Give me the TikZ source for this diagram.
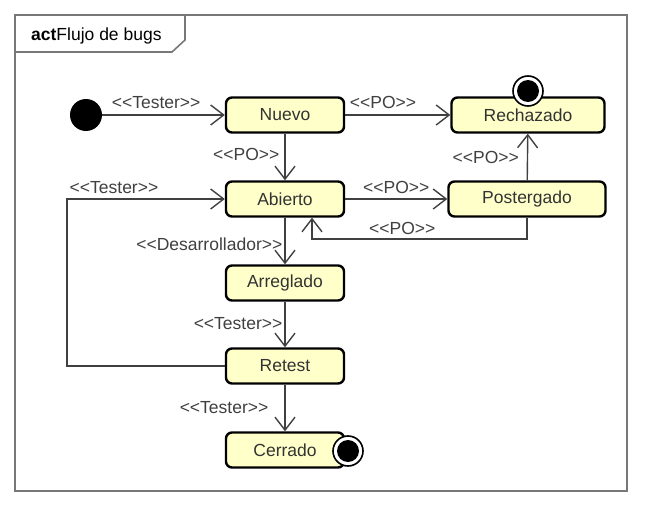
\documentclass[tikz,border=0pt]{standalone}
\usepackage{fontspec}
\setmainfont{Liberation Sans}
\usetikzlibrary{arrows.meta}
\definecolor{boxfill}{RGB}{255,255,202}
\definecolor{linegray}{RGB}{64,64,64}
\definecolor{framegray}{RGB}{120,120,120}
\newcommand{\stereo}[1]{<{}<#1>{}>}
\begin{document}
\begin{tikzpicture}[x=1pt, y=-1pt, font=\fontsize{17.5}{20}\selectfont,
    >={Straight Barb[length=13pt,width=20pt]},
    state/.style={draw=black, line width=2.4pt, fill=boxfill, rounded corners=6pt,
      minimum height=35pt, minimum width=118pt, inner sep=0pt, text=black!80},
    flow/.style={->, draw=linegray, line width=1.4pt},
    lbl/.style={text=black!75, inner sep=2pt},
    final/.style={circle, draw=black, fill=white, line width=1.6pt, minimum size=30pt, inner sep=0pt}]
    \useasboundingbox (0,0) rectangle (646,506);
    % frame
    \draw[framegray, line width=1.6pt] (15,15) rectangle (627,491);
    \draw[framegray, line width=1.6pt] (15,52) -- (172,52) -- (185,40) -- (185,15);
    \node[anchor=west, inner sep=0pt] (title) at (31,36) {\textbf{act}Flujo de bugs};
    % states
    \node[circle, fill=black, minimum size=32pt, inner sep=0pt] (ini) at (86,115) {};
    \node[state] (nuevo) at (285,115) {Nuevo};
    \node[state, minimum width=153pt] (rech) at (528,115) {Rechazado};
    \node[state] (abierto) at (285,199) {Abierto};
    \node[state, minimum width=157pt] (poster) at (527,199) {Postergado};
    \node[state] (arreglado) at (285,283) {Arreglado};
    \node[state] (retest) at (285,366) {Retest};
    \node[state] (cerrado) at (285,450) {Cerrado};
    \node[final] (finR) at (528,91) {};
    \fill (finR.center) circle (11pt);
    \node[final] (finC) at (348,451) {};
    \fill (finC.center) circle (11pt);
    \coordinate (corner) at (67,199);
    \coordinate (back) at (312,239);
    % transitions
    \draw[flow] (ini) -- node[lbl, above=4pt, pos=0.44] {\stereo{Tester}} (nuevo);
    \draw[flow] (nuevo) -- node[lbl, above=4pt, pos=0.36] {\stereo{PO}} (rech);
    \draw[flow] (nuevo) -- node[lbl, left, pos=0.45, xshift=-3pt] {\stereo{PO}} (abierto);
    \draw[flow] (abierto) -- node[lbl, above=3pt] {\stereo{PO}} (poster);
    \draw[flow] (poster) -- node[lbl, left, xshift=-6pt] {\stereo{PO}} (rech);
    \draw[flow] (poster.south) |- node[lbl, above=2pt, pos=0.79] {\stereo{PO}} (back) -- (abierto.south -| back);
    \draw[flow] (abierto) -- node[lbl, left, pos=0.58] {\stereo{Desarrollador}} (arreglado);
    \draw[flow] (arreglado) -- node[lbl, left, pos=0.47] {\stereo{Tester}} (retest);
    \draw[flow] (retest) -- node[lbl, left, xshift=-14pt] {\stereo{Tester}} (cerrado);
    \draw[flow] (retest) -| (corner) -- node[lbl, anchor=south west, pos=0, yshift=3pt] {\stereo{Tester}} (abierto);
\end{tikzpicture}
\end{document}
